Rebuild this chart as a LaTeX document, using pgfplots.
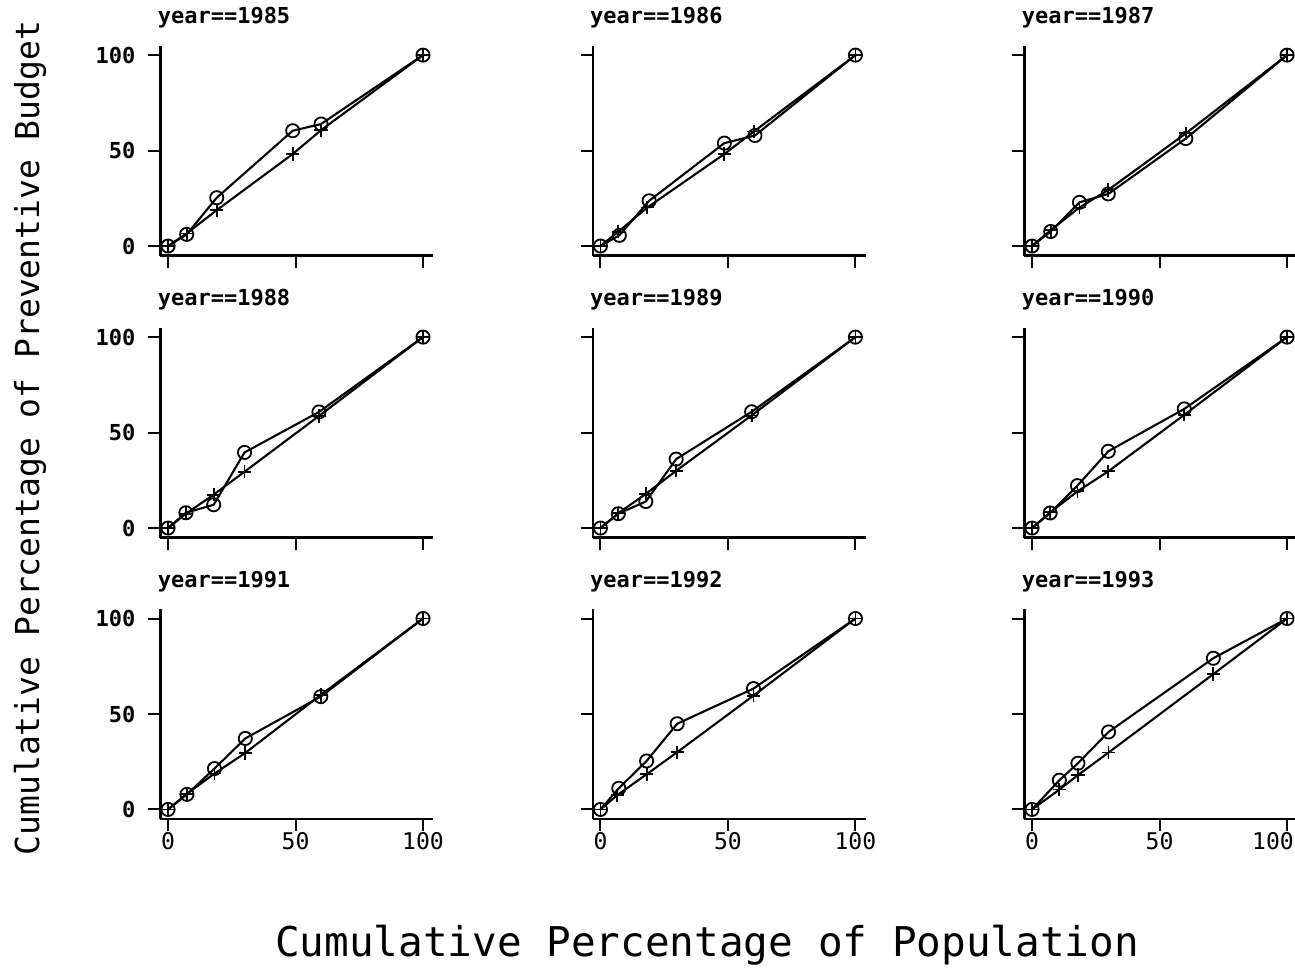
\documentclass[border=0pt]{standalone}
\usepackage{pgfplots}
\pgfplotsset{compat=1.18}
\usepackage{fontspec}
\setmainfont{DejaVu Sans Mono}
\pgfplotsset{
 every axis title shift=0pt,
 panel/.style={scale only axis, width=136.4pt, height=105pt,
   xmin=-3, xmax=104, ymin=-5, ymax=105,
   axis x line=bottom, axis y line=left,
   axis line style={-, line width=1.2pt, black},
   x axis line style={-}, y axis line style={-},
   tick align=outside, major tick length=6pt,
   xtick={0,50,100}, ytick={0,50,100},
   tick style={line width=1pt, black},
   /pgf/number format/assume math mode=true,
   tick label style={font=\fontsize{11}{13}\selectfont},
   xticklabels={}, yticklabels={},
   anchor=south west, clip=false,
   title style={at={(axis description cs:0,1)}, anchor=base west,
     yshift=10.8pt, xshift=-1.5pt, inner sep=0pt,
     font=\fontsize{11}{13}\selectfont\bfseries}},
 cs/.style={black, line width=1.05pt, mark=o, mark size=3.3pt, mark options={line width=0.9pt, solid}},
 ps/.style={black, line width=1.05pt, mark=+, mark size=3.3pt, mark options={line width=0.9pt, solid}},
 ylab/.style={yticklabels={0,50,100}, yticklabel style={xshift=-3pt, font=\fontsize{11}{13}\selectfont\bfseries}},
 xlab/.style={xticklabels={0,50,100}, xticklabel style={yshift=3pt, font=\fontsize{11.5}{13}\selectfont}},
 xlabr/.style={xticklabels={0,50,\makebox[0pt]{100\hspace*{14pt}}}, xticklabel style={yshift=3pt, font=\fontsize{11.5}{13}\selectfont}}
}
\newcommand\panel[5]{%
\begin{axis}[panel, at={(#1)}, title={#2}, #5]
\addplot[cs] coordinates {#3};
\addplot[ps] coordinates {#4};
\end{axis}}
\begin{document}
\begin{tikzpicture}
\useasboundingbox (0,0) rectangle (647.5pt,486pt);
% row 1
\panel{80.2pt,358.2pt}{year==1985}
 {(0,0)(7.3,6.1)(19.1,25.3)(48.9,60.4)(60,63.9)(100,100)}
 {(0,0)(7.3,6.6)(19.1,18.8)(48.9,48.2)(60,60.7)(100,100)}{ylab}
\panel{296.4pt,358.2pt}{year==1986}
 {(0,0)(7.4,5.6)(19.1,23.7)(48.6,53.9)(60.6,57.9)(100,100)}
 {(0,0)(7,7.5)(18.4,20.2)(48.6,48.2)(60.2,60)(100,100)}{}
\panel{512.2pt,358.2pt}{year==1987}
 {(0,0)(7.3,7.6)(18.6,22.9)(29.9,27.3)(60.3,56.3)(100,100)}
 {(0,0)(7.3,8.3)(18.6,20.2)(29.9,29.4)(60.3,59)(100,100)}{}
% row 2
\panel{80.2pt,217.2pt}{year==1988}
 {(0,0)(7,8)(17.9,12.2)(30,39.6)(59.2,60.8)(100,100)}
 {(0,0)(7,7.5)(17.9,17.5)(30,29.5)(59.2,58.7)(100,100)}{ylab}
\panel{296.4pt,217.2pt}{year==1989}
 {(0,0)(7,7.5)(17.8,13.9)(29.7,36.1)(59.3,60.9)(100,100)}
 {(0,0)(7,7.8)(17.8,17.9)(29.7,30)(59.3,59)(100,100)}{}
\panel{512.2pt,217.2pt}{year==1990}
 {(0,0)(7.1,7.9)(17.8,22.2)(29.9,40.2)(59.7,62.4)(100,100)}
 {(0,0)(7.1,8.2)(17.8,19.2)(29.9,29.7)(59.7,59.3)(100,100)}{}
% row 3
\panel{80.2pt,76.5pt}{year==1991}
 {(0,0)(7.4,7.9)(18.2,21.4)(30.3,37.2)(59.9,59.1)(100,100)}
 {(0,0)(7.4,8.2)(18.2,18.8)(30.3,29.6)(59.9,60)(100,100)}{ylab,xlab}
\panel{296.4pt,76.5pt}{year==1992}
 {(0,0)(7.2,11.1)(18.1,25.4)(30.1,44.9)(60,63.3)(100,100)}
 {(0,0)(6.6,7.5)(18.1,18.4)(30.1,30)(60,59.6)(100,100)}{xlab}
\panel{512.2pt,76.5pt}{year==1993}
 {(0,0)(10.7,15.3)(18,24.2)(30,40.6)(71.1,79.2)(100,100)}
 {(0,0)(10.7,10.4)(18,18)(30,29.8)(71.1,70.9)(100,100)}{xlabr}
\node[font=\fontsize{20.5}{24}\selectfont] at (353.5pt,13.5pt) {Cumulative Percentage of Population};
\node[font=\fontsize{16.5}{20}\selectfont, rotate=90] at (15pt,267pt) {Cumulative Percentage of Preventive Budget};
\end{tikzpicture}
\end{document}
